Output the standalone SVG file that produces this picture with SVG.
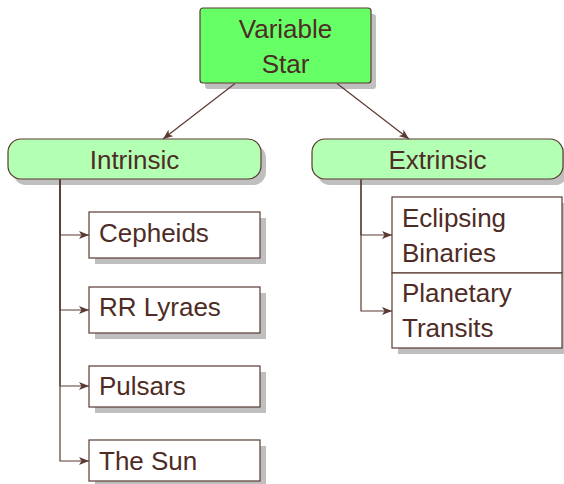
<svg xmlns="http://www.w3.org/2000/svg" width="564" height="484" viewBox="0 0 564 484">
<style>
text{font-family:"Liberation Sans",Arial,sans-serif;font-size:26px;fill:#4e2c25}
.shadow{fill:#bfbfbf}
.box{fill:#fff;stroke:#5a3a32;stroke-width:1.2}
.main{fill:#66ff66;stroke:#5a3a32;stroke-width:1.2}
.cat{fill:#b3ffb3;stroke:#5a3a32;stroke-width:1.2}
.c{text-anchor:middle}
.edge{fill:none;stroke:#5a3a32;stroke-width:1.2}
</style>
<defs>
<marker id="arr" markerWidth="11" markerHeight="8" refX="10" refY="4" orient="auto" markerUnits="userSpaceOnUse">
<path d="M0,0 L10,4 L0,8 L2.5,4 z" fill="#5a3a32"/>
</marker>
</defs>
<g id="variable-star">
<rect class="shadow" x="205" y="14" width="171" height="75" rx="3"/>
<rect class="main" x="200" y="8" width="171" height="75" rx="3"/>
<text class="c" x="285.5" y="38">Variable</text>
<text class="c" x="285.5" y="73">Star</text>
</g>
<g id="intrinsic">
<rect class="shadow" x="13" y="145" width="253" height="40" rx="13"/>
<rect class="cat" x="8" y="139" width="253" height="40" rx="13"/>
<text class="c" x="134.5" y="169">Intrinsic</text>
</g>
<g id="extrinsic">
<rect class="shadow" x="317" y="145" width="251" height="40" rx="13"/>
<rect class="cat" x="312" y="139" width="251" height="40" rx="13"/>
<text class="c" x="437.5" y="169">Extrinsic</text>
</g>
<g id="cepheids">
<rect class="shadow" x="95" y="218" width="171" height="46"/>
<rect class="box" x="89" y="212" width="171" height="46"/>
<text x="99" y="242">Cepheids</text>
</g>
<g id="rr-lyraes">
<rect class="shadow" x="95" y="293" width="171" height="46"/>
<rect class="box" x="89" y="287" width="171" height="46"/>
<text x="99" y="316">RR Lyraes</text>
</g>
<g id="pulsars">
<rect class="shadow" x="95" y="372" width="171" height="41"/>
<rect class="box" x="89" y="366" width="171" height="41"/>
<text x="99" y="395">Pulsars</text>
</g>
<g id="the-sun">
<rect class="shadow" x="95" y="446" width="171" height="41"/>
<rect class="box" x="89" y="440" width="171" height="41"/>
<text x="99" y="470">The Sun</text>
</g>
<g id="eclipsing-binaries">
<rect class="shadow" x="398" y="203" width="170" height="76"/>
<rect class="box" x="392" y="197" width="170" height="76"/>
<text x="402" y="227">Eclipsing</text>
<text x="402" y="262">Binaries</text>
</g>
<g id="planetary-transits">
<rect class="shadow" x="398" y="279" width="170" height="75"/>
<rect class="box" x="392" y="273" width="170" height="75"/>
<text x="402" y="302">Planetary</text>
<text x="402" y="337">Transits</text>
</g>
<g id="edges">
<path class="edge" d="M235,83.6 L163,139" marker-end="url(#arr)"/>
<path class="edge" d="M337,83.6 L409,139" marker-end="url(#arr)"/>
<path class="edge" d="M60,179.6 V235 H89" marker-end="url(#arr)"/>
<path class="edge" d="M60,179.6 V310 H89" marker-end="url(#arr)"/>
<path class="edge" d="M60,179.6 V386 H89" marker-end="url(#arr)"/>
<path class="edge" d="M60,179.6 V461 H89" marker-end="url(#arr)"/>
<path class="edge" d="M361,179.6 V235 H392" marker-end="url(#arr)"/>
<path class="edge" d="M361,179.6 V311 H392" marker-end="url(#arr)"/>
</g>
</svg>
